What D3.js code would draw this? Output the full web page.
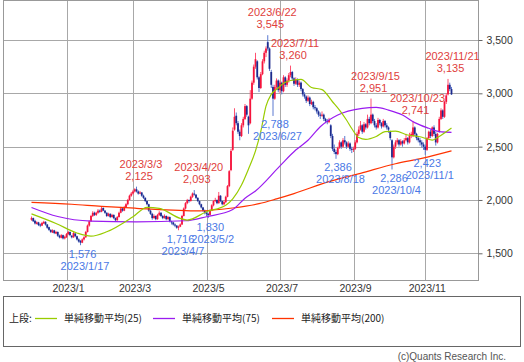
<!DOCTYPE html>
<html><head><meta charset="utf-8">
<script src="https://cdn.jsdelivr.net/npm/d3@7"></script>
<style>html,body{margin:0;padding:0;background:#fff;}svg{display:block}</style>
</head><body><svg id="c" width="524" height="362"></svg>
<script>
// ---- data: daily candles [open, high, low, close], one array per month ----
const monthNames = ["2022/12","2023/1","2023/2","2023/3","2023/4","2023/5","2023/6","2023/7","2023/8","2023/9","2023/10","2023/11"];
const dec22 = [[1815,1845,1805,1830],[1830,1835,1795,1800],[1805,1815,1770,1780],[1775,1800,1770,1790],[1790,1795,1755,1765],[1770,1780,1745,1760],[1760,1795,1755,1785],[1780,1805,1775,1795],[1795,1800,1760,1770],[1770,1775,1730,1740],[1745,1750,1710,1720],[1720,1725,1690,1700],[1695,1725,1690,1715],[1715,1720,1680,1690],[1685,1710,1680,1700],[1700,1705,1655,1665],[1665,1675,1640,1650],[1645,1680,1640,1670],[1670,1675,1630,1640],[1640,1665,1630,1655]];
const jan23 = [[1650,1690,1645,1680],[1680,1710,1670,1700],[1700,1705,1660,1670],[1665,1670,1640,1650],[1650,1700,1645,1690],[1685,1690,1650,1660],[1660,1665,1620,1630],[1630,1640,1600,1610],[1615,1625,1576,1600],[1600,1640,1595,1630],[1630,1660,1620,1650],[1650,1710,1645,1700],[1700,1770,1695,1760],[1760,1810,1750,1800],[1800,1860,1795,1850],[1850,1895,1840,1880],[1880,1890,1850,1860],[1860,1890,1850,1880],[1880,1915,1870,1900]];
const feb23 = [[1900,1910,1880,1890],[1890,1940,1885,1920],[1925,1930,1895,1900],[1900,1905,1870,1880],[1880,1885,1840,1850],[1850,1880,1845,1870],[1870,1875,1830,1840],[1840,1870,1835,1860],[1860,1865,1820,1830],[1830,1835,1800,1810],[1810,1850,1805,1840],[1840,1890,1835,1880],[1880,1935,1875,1920],[1920,1925,1890,1900],[1900,1945,1895,1930],[1930,1970,1925,1960],[1960,2010,1950,2000],[2000,2050,1995,2040],[2040,2075,2030,2060]];
const mar23 = [[2060,2095,2050,2080],[2080,2110,2070,2100],[2100,2125,2070,2080],[2080,2090,2050,2060],[2060,2085,2055,2070],[2070,2075,2030,2040],[2040,2050,2010,2020],[2020,2025,1980,1990],[1990,1995,1950,1960],[1960,1965,1890,1900],[1900,1910,1860,1870],[1870,1880,1815,1830],[1830,1865,1825,1850],[1850,1855,1810,1820],[1820,1870,1815,1860],[1860,1895,1850,1880],[1880,1885,1840,1850],[1850,1860,1820,1830],[1830,1865,1825,1850],[1850,1855,1810,1820],[1820,1850,1815,1840],[1840,1845,1790,1800]];
const apr23 = [[1800,1805,1770,1790],[1790,1795,1760,1770],[1770,1780,1745,1760],[1760,1765,1730,1740],[1740,1760,1716,1750],[1750,1780,1745,1770],[1770,1860,1765,1850],[1850,1930,1845,1920],[1920,1980,1910,1970],[1970,2010,1960,2000],[2000,2005,1975,1990],[1990,2040,1985,2030],[2030,2070,2020,2060],[2060,2093,2040,2050],[2050,2055,2010,2020],[2020,2025,1980,1990],[1990,1995,1950,1960],[1960,1965,1920,1930],[1930,1935,1890,1900],[1900,1910,1865,1880]];
const may23 = [[1880,1895,1850,1870],[1870,1880,1830,1860],[1860,1910,1855,1900],[1900,1960,1895,1950],[1950,2000,1940,1990],[1990,2020,1980,2000],[2000,2005,1960,1970],[1970,2075,1965,2040],[2040,2045,1980,1990],[1990,1995,1950,1960],[1960,1995,1950,1980],[1980,2040,1970,2030],[2030,2140,2025,2130],[2130,2280,2120,2270],[2280,2480,2270,2460],[2470,2680,2460,2650],[2660,2860,2650,2780],[2790,2820,2700,2720],[2720,2740,2620,2640],[2640,2660,2560,2600]];
const jun23 = [[2600,2720,2590,2700],[2700,2780,2680,2760],[2760,2900,2750,2880],[2880,2890,2780,2800],[2780,2790,2620,2700],[2720,3030,2710,2950],[2950,3120,2940,3100],[3100,3270,3080,3250],[3250,3380,3230,3320],[3300,3310,3130,3150],[3150,3160,3012,3050],[3050,3200,3040,3180],[3180,3320,3170,3300],[3300,3400,3280,3380],[3380,3440,3340,3420],[3480,3545,3400,3420],[3420,3430,3210,3230],[3200,3220,3050,3080],[3060,3080,2788,2950],[2950,3080,2940,3060],[3060,3140,3040,3120],[3120,3130,3010,3030]];
const jul23 = [[3030,3120,3000,3100],[3100,3110,2990,3020],[3020,3170,3010,3150],[3150,3160,3060,3080],[3080,3140,3060,3120],[3120,3190,3100,3170],[3170,3260,3150,3200],[3200,3210,3120,3140],[3140,3150,3070,3090],[3090,3150,3080,3130],[3130,3140,3060,3080],[3080,3120,3060,3100],[3100,3110,3020,3040],[3040,3050,2970,2990],[2990,3010,2950,2970],[2970,2980,2910,2930],[2930,2980,2920,2960],[2960,2970,2880,2900],[2900,2940,2890,2920],[2920,2930,2850,2870]];
const aug23 = [[2870,2890,2840,2860],[2860,2870,2810,2830],[2830,2840,2780,2800],[2800,2820,2760,2790],[2790,2830,2780,2800],[2800,2810,2740,2760],[2760,2770,2720,2740],[2740,2760,2710,2730],[2730,2770,2720,2750],[2700,2710,2580,2600],[2600,2620,2460,2480],[2480,2520,2430,2450],[2450,2470,2386,2430],[2430,2500,2420,2490],[2490,2560,2480,2540],[2540,2550,2480,2500],[2500,2580,2490,2560],[2560,2600,2520,2540],[2540,2550,2480,2500],[2500,2550,2490,2530],[2530,2540,2460,2480],[2480,2500,2440,2470]];
const sep23 = [[2470,2500,2450,2480],[2480,2560,2470,2540],[2540,2640,2530,2620],[2620,2690,2600,2660],[2660,2740,2650,2700],[2700,2710,2620,2640],[2640,2730,2630,2710],[2710,2720,2660,2680],[2680,2800,2670,2760],[2760,2780,2700,2720],[2720,2951,2710,2800],[2800,2810,2720,2740],[2740,2760,2680,2700],[2700,2720,2660,2680],[2680,2770,2670,2750],[2750,2760,2700,2720],[2720,2730,2670,2690],[2690,2760,2680,2740],[2740,2750,2680,2700],[2700,2720,2660,2680]];
const oct23 = [[2680,2690,2630,2660],[2640,2650,2560,2580],[2560,2570,2286,2400],[2400,2520,2390,2500],[2500,2560,2480,2540],[2540,2580,2520,2560],[2560,2570,2500,2520],[2520,2570,2510,2550],[2550,2560,2500,2530],[2530,2580,2520,2560],[2560,2620,2550,2580],[2580,2590,2520,2540],[2540,2630,2530,2600],[2600,2640,2580,2620],[2600,2741,2590,2680],[2680,2690,2600,2620],[2620,2630,2560,2580],[2580,2600,2540,2560],[2560,2580,2510,2540],[2540,2560,2490,2520],[2520,2540,2470,2500]];
const nov23 = [[2500,2520,2423,2470],[2470,2590,2460,2580],[2580,2650,2570,2640],[2640,2660,2580,2600],[2600,2690,2590,2680],[2680,2700,2600,2620],[2620,2640,2510,2540],[2540,2630,2530,2620],[2640,2780,2630,2760],[2760,2860,2750,2840],[2840,2850,2760,2780],[2780,2930,2770,2920],[2920,3000,2900,2980],[2990,3135,2980,3080],[3080,3100,3020,3040],[3040,3060,2985,2990]];
const monthData = [dec22,jan23,feb23,mar23,apr23,may23,jun23,jul23,aug23,sep23,oct23,nov23];

// moving averages: [trading-day index, value]
const ma25 = [[0,1870],[14,1780],[26,1690],[34,1661],[43,1702],[58,1843],[66,1931],[73,1921],[85,1827],[89,1811],[100,1890],[111,1950],[115,2010],[120,2140],[124,2290],[128,2460],[131,2640],[134,2880],[137,2990],[141,3050],[144,3094],[150,3125],[154,3130],[160,3055],[166,3035],[172,2921],[176,2843],[180,2750],[183,2670],[187,2585],[191,2568],[197,2595],[202,2640],[208,2645],[215,2609],[222,2593],[229,2562],[232,2585],[237,2640],[240,2675]];
const ma75 = [[0,1930],[15,1845],[34,1802],[60,1795],[88,1805],[100,1843],[115,1910],[122,2016],[128,2085],[142,2320],[151,2468],[158,2560],[165,2687],[175,2797],[189,2859],[197,2869],[204,2843],[212,2797],[219,2725],[227,2672],[233,2640],[240,2634]];
const ma200 = [[0,1978],[23,1960],[40,1940],[60,1922],[96,1898],[115,1925],[130,1965],[140,2010],[150,2060],[170,2172],[188,2250],[208,2340],[223,2390],[240,2460]];

const yTicks = [1500,2000,2500,3000,3500];
const xTickLabels = ["2023/1","2023/3","2023/5","2023/7","2023/9","2023/11"];
const highNotes = [["2023/3",2125,"2023/3/3"],["2023/4",2093,"2023/4/20"],["2023/6",3545,"2023/6/22"],["2023/7",3260,"2023/7/11"],["2023/9",2951,"2023/9/15"],["2023/10",2741,"2023/10/23"],["2023/11",3135,"2023/11/21"]];
const lowNotes = [["2023/1",1576,"2023/1/17"],["2023/4",1716,"2023/4/7"],["2023/5",1830,"2023/5/2"],["2023/6",2788,"2023/6/27"],["2023/8",2386,"2023/8/18"],["2023/10",2286,"2023/10/4"],["2023/11",2423,"2023/11/1"]];
const legendItems = [["単純移動平均(25)","#99cc00"],["単純移動平均(75)","#9a1cf0"],["単純移動平均(200)","#ff3300"]];

// ---- build ----
const candles = [].concat(...monthData);
const monthStart = [];
{ let s = 0; monthData.forEach(m => { monthStart.push(s); s += m.length; }); }
const mIdx = name => monthNames.indexOf(name);

const svg = d3.select("#c");
svg.append("rect").attr("width",524).attr("height",362).attr("fill","#fff");
const L = 3, R = 478, T = 0, B = 280;
const x = d3.scaleLinear().domain([0,240]).range([31.5,451.5]);
const y = d3.scaleLinear().domain([1500,3500]).range([253.3,40]);
const font = "'Liberation Sans', Arial, sans-serif";
const cjk = "'Noto Sans CJK JP', 'Liberation Sans', sans-serif";

svg.append("defs").append("clipPath").attr("id","clip").append("rect")
  .attr("x",L).attr("y",T).attr("width",R-L).attr("height",B-T);

// gridlines
const grid = svg.append("g");
grid.selectAll("line.h").data(yTicks).join("line")
  .attr("x1",L).attr("x2",R).attr("y1",d=>Math.round(y(d))+0.5).attr("y2",d=>Math.round(y(d))+0.5)
  .attr("stroke","#a8a8a8").attr("stroke-width",1);
const xTickIdx = xTickLabels.map(l => monthStart[mIdx(l)]);
grid.selectAll("line.v").data(xTickIdx).join("line")
  .attr("x1",d=>Math.round(x(d))+0.5).attr("x2",d=>Math.round(x(d))+0.5).attr("y1",T).attr("y2",B)
  .attr("stroke","#a8a8a8").attr("stroke-width",1);

// candles
const cg = svg.append("g").attr("clip-path","url(#clip)");
const up = d => d[3] >= d[0];
cg.selectAll("line.wick").data(candles).join("line")
  .attr("x1",(d,i)=>x(i)).attr("x2",(d,i)=>x(i))
  .attr("y1",d=>y(d[1])).attr("y2",d=>y(d[2]))
  .attr("stroke",d=>up(d)?"#ff5070":"#5a78d0").attr("stroke-width",1);
cg.selectAll("rect.body").data(candles).join("rect")
  .attr("x",(d,i)=>x(i)-0.9).attr("width",1.8)
  .attr("y",d=>y(Math.max(d[0],d[3])))
  .attr("height",d=>Math.max(1,Math.abs(y(d[0])-y(d[3]))))
  .attr("fill",d=>up(d)?"#f5143c":"#1c2a8c");

// moving averages
const line = d3.line().x(d=>x(d[0])).y(d=>y(d[1])).curve(d3.curveMonotoneX);
[[ma200,legendItems[2][1]],[ma75,legendItems[1][1]],[ma25,legendItems[0][1]]].forEach(([s,c]) => {
  cg.append("path").datum(s).attr("d",line).attr("fill","none").attr("stroke",c).attr("stroke-width",1.2);
});

// plot border
svg.append("rect").attr("x",L+0.5).attr("y",T+0.5).attr("width",R-L).attr("height",B-T)
  .attr("fill","none").attr("stroke","#999");

// y axis (right)
const yAxis = d3.axisRight(y).tickValues(yTicks).tickSize(4).tickPadding(4).tickFormat(d3.format(","));
const ya = svg.append("g").attr("transform",`translate(${R+0.5},0)`).call(yAxis);
ya.select(".domain").remove();
ya.selectAll("line").attr("stroke","#666");
ya.selectAll("text").attr("font-family",font).attr("font-size",10.5).attr("fill","#333");

// x axis labels
const xAxis = d3.axisBottom(x).tickValues(xTickIdx).tickSize(0).tickPadding(5)
  .tickFormat((d,i)=>xTickLabels[i]);
const xa = svg.append("g").attr("transform",`translate(1.5,${B})`).call(xAxis);
xa.select(".domain").remove();
xa.selectAll("text").attr("font-family",font).attr("font-size",10.5).attr("fill","#333");

// annotations
const findIdx = (month, val, col) => {
  const m = mIdx(month);
  return monthStart[m] + monthData[m].findIndex(c => c[col] === val);
};
const ann = svg.append("g").attr("font-family",font).attr("font-size",11).attr("text-anchor","middle");
highNotes.forEach(([m,v,lab]) => {
  const i = findIdx(m,v,1), cx = x(i), cy = y(v);
  ann.append("text").attr("x",cx+4.5).attr("y",cy-19).attr("fill","#e0403c").text(lab);
  ann.append("text").attr("x",cx+2.5).attr("y",cy-7).attr("fill","#e0403c").text(d3.format(",")(v));
});
lowNotes.forEach(([m,v,lab]) => {
  const i = findIdx(m,v,2), cx = x(i), cy = y(v);
  ann.append("text").attr("x",cx+2).attr("y",cy+12.5).attr("fill","#4a78e6").text(d3.format(",")(v));
  ann.append("text").attr("x",cx+4.5).attr("y",cy+24.5).attr("fill","#4a78e6").text(lab);
});

// legend
const lg = svg.append("g");
lg.append("rect").attr("x",3.5).attr("y",296.5).attr("width",517).attr("height",50)
  .attr("fill","#fff").attr("stroke","#666");
lg.append("text").attr("x",9).attr("y",322).attr("font-family",cjk).attr("font-size",10).attr("fill","#222").text("上段:");
const lx = [35,153,272];
legendItems.forEach(([t,c],k) => {
  lg.append("line").attr("x1",lx[k]).attr("x2",lx[k]+22).attr("y1",318.5).attr("y2",318.5).attr("stroke",c).attr("stroke-width",1.3);
  lg.append("text").attr("x",lx[k]+29).attr("y",322).attr("font-family",cjk).attr("font-size",10).attr("fill","#222").text(t);
});

svg.append("text").attr("x",506).attr("y",360).attr("text-anchor","end")
  .attr("font-family",font).attr("font-size",10).attr("fill","#555").text("(c)Quants Research Inc.");
</script></body></html>
